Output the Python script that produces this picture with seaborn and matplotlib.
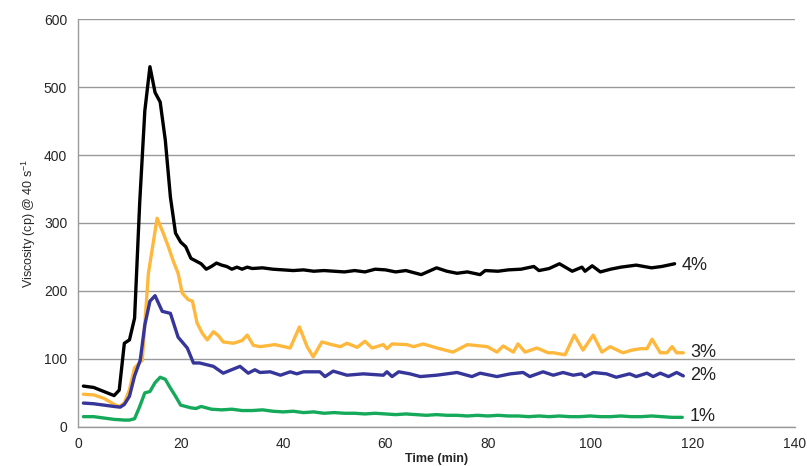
import numpy as np
import pandas as pd
import matplotlib.pyplot as plt
import seaborn as sns

# 4% series
t4 = [1, 3, 5, 7, 8, 9, 10, 11, 12, 13, 14, 15, 16, 17, 18, 19, 20, 21, 22, 23, 24, 25,
      26, 27, 28, 29, 30, 31, 32, 33, 34, 36, 38, 40, 42, 44, 46, 48, 50, 52, 54, 56,
      58, 60, 62, 64, 66, 67, 70, 72, 74, 76, 78.5, 79.5, 82, 84, 86.5, 89, 90, 92,
      94, 96.5, 98.4, 99, 100.4, 102, 104, 106, 109, 112, 114, 116.5]
v4 = [60, 58, 52, 46, 54, 123, 128, 160, 330, 465, 530, 492, 478, 422, 338, 285, 272,
      265, 248, 244, 240, 232, 236, 241, 238, 236, 232, 235, 232, 235, 233, 234, 232,
      231, 230, 231, 229, 230, 229, 228, 230, 228, 232, 231, 228, 230, 226, 224, 234,
      229, 226, 228, 224, 230, 229, 231, 232, 236, 230, 233, 240, 229, 235, 229, 237,
      228, 232, 235, 238, 234, 236, 240]

# 3% series
t3 = [1, 3, 5, 7, 8, 9, 10, 11, 12.5, 13.7, 15.4, 16.6, 17.6, 18.6, 19.5, 20.3, 21.5,
      22.3, 23.2, 24.2, 25.2, 26.4, 27.4, 28.3, 30.3, 32, 33, 34.2, 35.5, 38.4, 41.4,
      43.2, 44.7, 45.9, 47.6, 49.5, 51.2, 52.5, 54.5, 56, 57.4, 59.6, 60.3, 61.3, 64.2,
      65.5, 67.4, 70.1, 73.2, 76, 79.9, 81.8, 83, 85, 85.9, 87.3, 89.6, 91.8, 92.8,
      95.1, 96.9, 98.6, 100.6, 102.3, 103.9, 106.4, 108.2, 109.8, 111.1, 112.1, 113.7,
      115, 116, 116.9, 118.2]
v3 = [48, 47, 42, 33, 30, 35, 55, 87, 98, 226, 307, 285, 265, 243, 226, 197, 187, 185,
      153, 138, 128, 140, 134, 125, 123, 127, 135, 120, 118, 121, 116, 147, 118, 103,
      125, 121, 118, 123, 117, 126, 116, 121, 115, 122, 121, 118, 122, 116, 110, 121,
      118, 110, 119, 110, 122, 110, 116, 109, 109, 106, 135, 113, 135, 110, 118, 109,
      113, 115, 115, 129, 109, 109, 118, 109, 109]

# 2% series
t2 = [1, 3, 5, 7, 8.2, 9, 10, 11, 12.1, 13, 14, 15, 16.4, 18, 19.5, 21.3, 22.5, 23.7,
      26.4, 28.3, 31.6, 33.2, 34.5, 35.5, 37.5, 39.5, 41.4, 42.7, 44, 47.2, 48.2, 49.8,
      52.5, 55.7, 59.6, 60.3, 61.3, 62.6, 64.8, 66.8, 70, 74, 76.9, 78.5, 81.8, 84.4,
      86.9, 88.2, 90.8, 92.8, 94.7, 96.7, 98.3, 99, 100.6, 103.2, 105.1, 107.7, 109,
      111.1, 112.3, 113.7, 115.3, 116.9, 118.2]
v2 = [35, 34, 32, 30, 29, 33, 45, 75, 98, 150, 185, 193, 170, 167, 132, 116, 94, 94,
      89, 79, 89, 79, 84, 80, 81, 76, 81, 78, 81, 81, 74, 82, 76, 78, 76, 81, 74, 81,
      78, 74, 76, 80, 74, 79, 74, 78, 80, 74, 81, 76, 80, 76, 78, 74, 80, 78, 73, 78,
      74, 79, 74, 79, 74, 80, 75]

# 1% series
t1 = [1, 3, 5, 7, 9, 10, 11, 12, 13, 14, 15, 16, 17, 18, 19, 20, 21, 22, 23, 24, 26,
      28, 30, 32, 34, 36, 38, 40, 42, 44, 46, 48, 50, 52, 54, 56, 58, 60, 62, 64, 66,
      68, 70, 72, 74, 76, 78, 80, 82, 84, 86, 88, 90, 92, 94, 96, 98, 100, 102, 104,
      106, 108, 110, 112, 114, 116, 118]
v1 = [15, 15, 13, 11, 10, 10, 12, 30, 50, 52, 65, 73, 70, 57, 45, 32, 30, 28, 27, 30,
      26, 25, 26, 24, 24, 25, 23, 22, 23, 21, 22, 20, 21, 20, 20, 19, 20, 19, 18, 19,
      18, 17, 18, 17, 17, 16, 17, 16, 17, 16, 16, 15, 16, 15, 16, 15, 15, 16, 15, 15,
      16, 15, 15, 16, 15, 14, 14]

series = [("4%", t4, v4, "#000000"),
          ("3%", t3, v3, "#FFB83C"),
          ("2%", t2, v2, "#35359A"),
          ("1%", t1, v1, "#15A95A")]
label_pos = {"4%": (117.8, 238), "3%": (119.6, 110), "2%": (119.6, 76), "1%": (119.4, 15)}

sns.set_style("white")
plt.rcParams['font.family'] = ['Liberation Sans', 'DejaVu Sans']
plt.rcParams['mathtext.default'] = 'regular'

fig, ax = plt.subplots(figsize=(8.07, 4.66), dpi=100)
fig.subplots_adjust(left=0.097, right=0.985, bottom=0.084, top=0.959)

for name, t, v, c in series:
    df = pd.DataFrame({"t": t, "v": v})
    sns.lineplot(data=df, x="t", y="v", color=c, linewidth=2.4, ax=ax,
                 solid_joinstyle="round", solid_capstyle="round")
    lx, ly = label_pos[name]
    ax.text(lx, ly, name, fontsize=13, va="center", ha="left", color="#222222")

ax.set_xlim(0, 140)
ax.set_ylim(0, 600)
ax.set_xticks(np.arange(0, 141, 20))
ax.set_yticks(np.arange(0, 601, 100))
ax.yaxis.grid(True, color="#9a9a9a", linewidth=1)
ax.xaxis.grid(False)
ax.set_axisbelow(True)
for s in ["top", "right"]:
    ax.spines[s].set_visible(False)
for s in ["left", "bottom"]:
    ax.spines[s].set_color("#9a9a9a")
    ax.spines[s].set_linewidth(1)
ax.tick_params(axis="x", length=4, color="#9a9a9a", labelsize=10, pad=3)
ax.tick_params(axis="y", length=0, labelsize=10, pad=8)
ax.set_xlabel("Time (min)", fontsize=9, fontweight="bold", labelpad=2)
ax.set_ylabel("Viscosity (cp) @ 40 s$^{-1}$", fontsize=9)

fig.savefig("out.png", dpi=100)
